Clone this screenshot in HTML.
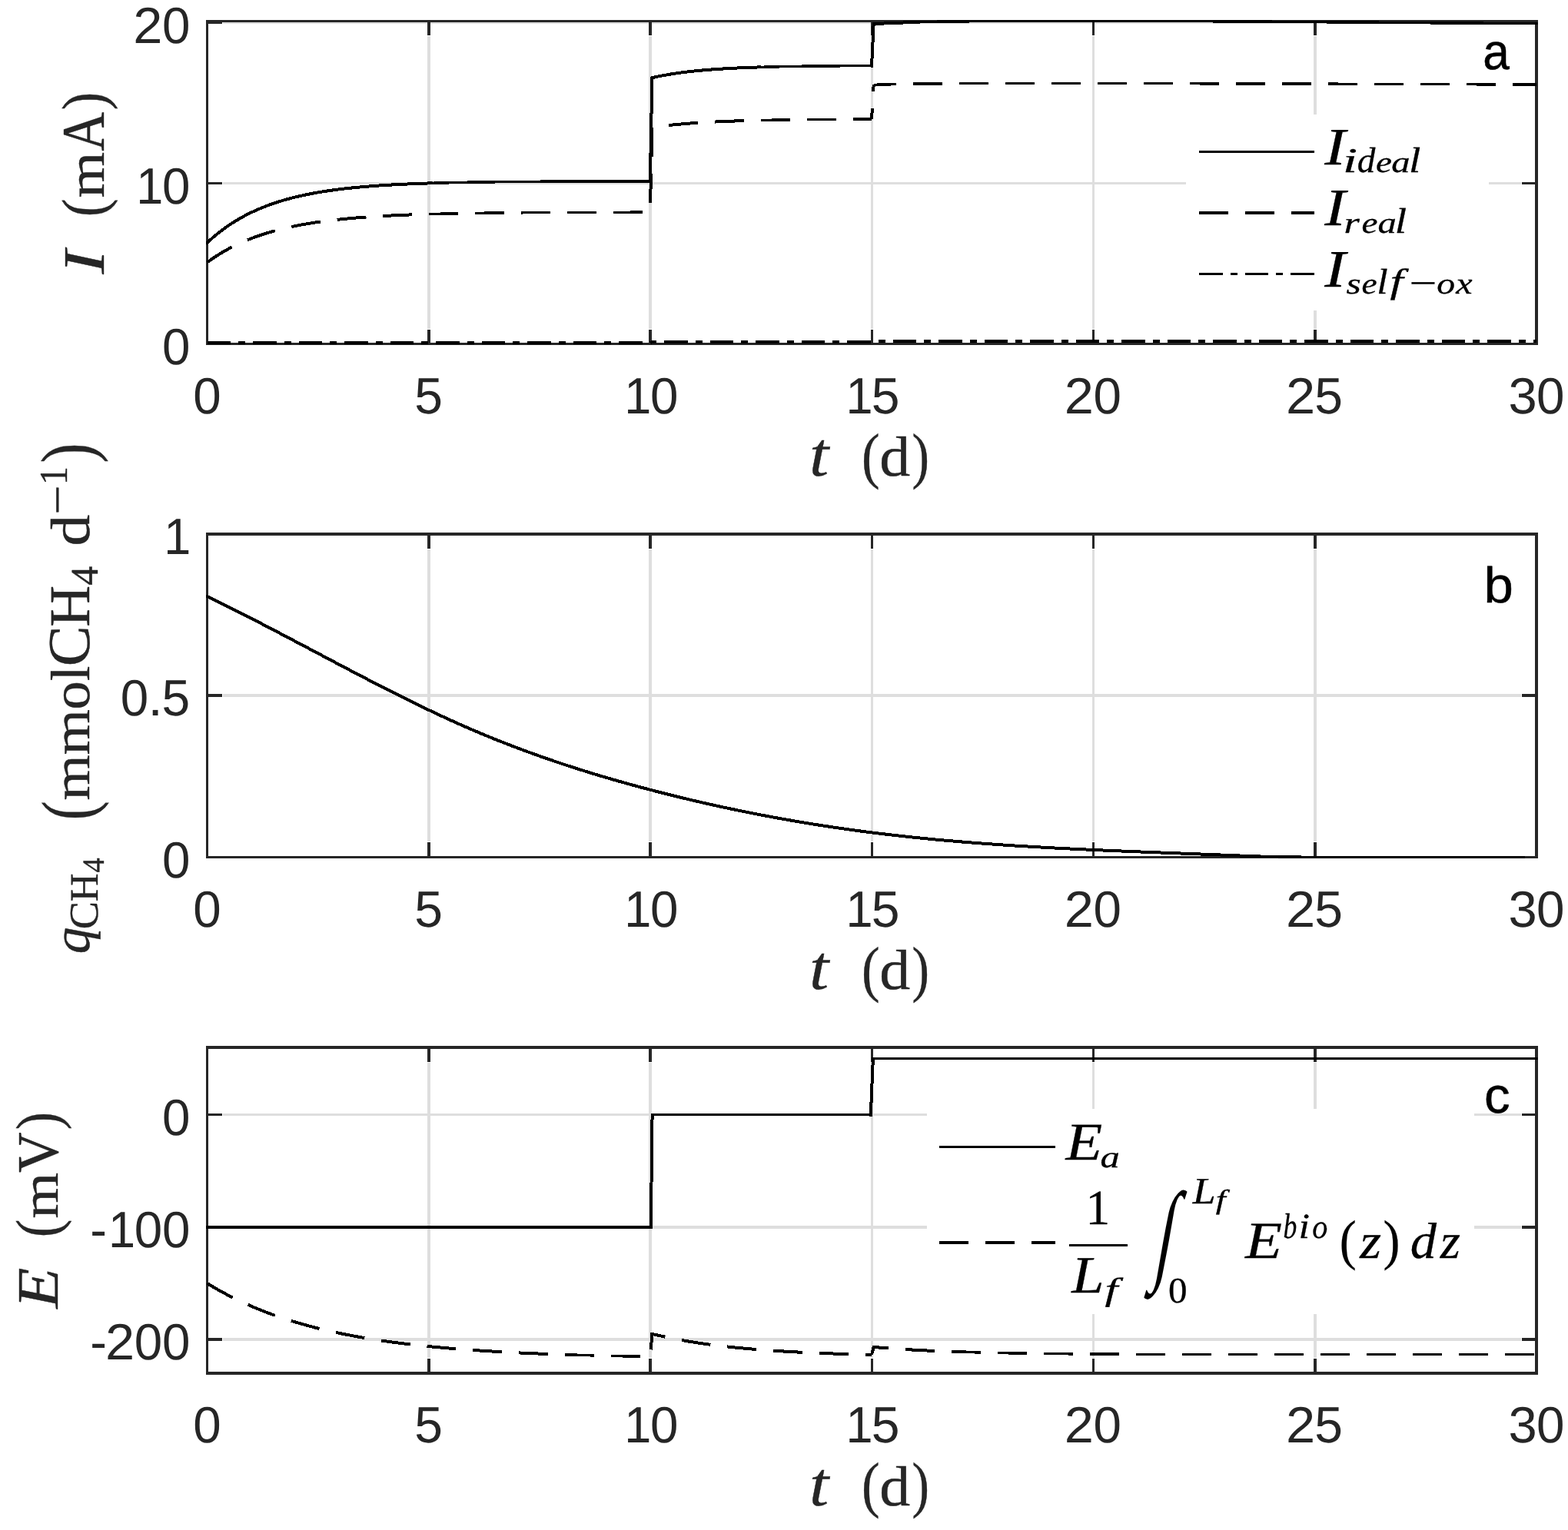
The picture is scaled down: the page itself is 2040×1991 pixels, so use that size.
<!DOCTYPE html>
<html lang="en"><head><meta charset="utf-8"><title>Figure: current, methane production rate and potential versus time</title>
<style>html,body{margin:0;padding:0;background:#fff}body{width:2040px;height:1991px;overflow:hidden}svg{display:block}text{white-space:pre}</style></head><body>
<svg xmlns="http://www.w3.org/2000/svg" width="2040" height="1991" viewBox="0 0 2040 1991" text-rendering="geometricPrecision">
<rect width="2040" height="1991" fill="#fff"/>
<defs>
<clipPath id="c0"><rect x="268.1" y="26" width="1732.5" height="423"/></clipPath>
<clipPath id="c1"><rect x="268.1" y="693.5" width="1732.5" height="423.5"/></clipPath>
<clipPath id="c2"><rect x="268.1" y="1361.5" width="1732.5" height="427"/></clipPath>
</defs>
<g id="panel-a">
<g fill="#dedede"><rect x="556" y="47" width="4" height="381"/><rect x="844" y="47" width="4" height="381"/><rect x="1133" y="47" width="3" height="381"/><rect x="1421" y="47" width="3" height="381"/><rect x="1709" y="47" width="4" height="381"/><rect x="290" y="446" width="1689" height="0"/><rect x="290" y="237" width="1689" height="3"/><rect x="290" y="29" width="1689" height="2"/></g>
<rect x="1543" y="149" width="394" height="255" fill="#fff"/>
<g fill="#262626"><rect x="268" y="26" width="1733" height="3"/><rect x="268" y="446" width="1733" height="3"/><rect x="268" y="26" width="3" height="423"/><rect x="1997" y="26" width="4" height="423"/><rect x="268" y="29" width="3" height="17"/><rect x="268" y="429" width="3" height="17"/><rect x="556" y="29" width="4" height="17"/><rect x="556" y="429" width="4" height="17"/><rect x="844" y="29" width="4" height="17"/><rect x="844" y="429" width="4" height="17"/><rect x="1133" y="29" width="3" height="17"/><rect x="1133" y="429" width="3" height="17"/><rect x="1421" y="29" width="3" height="17"/><rect x="1421" y="429" width="3" height="17"/><rect x="1709" y="29" width="4" height="17"/><rect x="1709" y="429" width="4" height="17"/><rect x="1997" y="29" width="4" height="17"/><rect x="1997" y="429" width="4" height="17"/><rect x="271" y="446" width="18" height="3"/><rect x="1980" y="446" width="17" height="3"/><rect x="271" y="237" width="18" height="3"/><rect x="1980" y="237" width="17" height="3"/><rect x="271" y="28" width="18" height="3"/><rect x="1980" y="28" width="17" height="3"/></g>
<path d="M269.6 315.83 L276.07 309.94 L282.55 304.49 L289.02 299.43 L295.5 294.75 L301.97 290.42 L308.45 286.4 L314.92 282.67 L321.39 279.23 L327.87 276.03 L334.34 273.07 L340.82 270.33 L347.29 267.79 L353.77 265.43 L360.24 263.25 L366.71 261.23 L373.19 259.36 L379.66 257.63 L386.14 256.02 L392.61 254.53 L399.09 253.15 L405.56 251.87 L412.03 250.69 L418.51 249.59 L424.98 248.58 L431.46 247.64 L437.93 246.77 L444.41 245.96 L450.88 245.21 L457.35 244.52 L463.83 243.87 L470.3 243.28 L476.78 242.73 L483.25 242.22 L489.73 241.74 L496.2 241.3 L502.67 240.9 L509.15 240.52 L515.62 240.17 L522.1 239.85 L528.57 239.55 L535.05 239.27 L541.52 239.02 L547.99 238.78 L554.47 238.56 L560.94 238.36" fill="none" stroke="#000" stroke-width="4" stroke-linejoin="miter" stroke-linecap="square" shape-rendering="crispEdges" clip-path="url(#c0)"/>
<path d="M560.94 238.36 L567.42 238.17 L573.89 237.99 L580.37 237.83 L586.84 237.68 L593.31 237.54 L599.79 237.41 L606.26 237.29 L612.74 237.18 L619.21 237.08 L625.69 236.98 L632.16 236.89 L638.63 236.81 L645.11 236.74 L651.58 236.67 L658.06 236.6 L664.53 236.54 L671.01 236.48 L677.48 236.43 L683.95 236.39 L690.43 236.34 L696.9 236.3 L703.38 236.26 L709.85 236.23 L716.33 236.19 L722.8 236.16 L729.27 236.14 L735.75 236.11 L742.22 236.09 L748.7 236.06 L755.17 236.04 L761.65 236.02 L768.12 236.01 L774.59 235.99 L781.07 235.97 L787.54 235.96 L794.02 235.95 L800.49 235.94 L806.97 235.92 L813.44 235.91 L819.91 235.9 L826.39 235.9 L832.86 235.89 L839.34 235.88 L845.81 235.87" fill="none" stroke="#000" stroke-width="3.5" stroke-linejoin="miter" stroke-linecap="square" shape-rendering="crispEdges" clip-path="url(#c0)"/>
<path d="M845.81 235.87 L848.41 101.19 L854.24 99.9 L860.07 98.72 L865.9 97.64 L871.72 96.64 L877.55 95.73 L883.38 94.88 L889.21 94.11 L895.04 93.4 L900.87 92.74 L906.7 92.14 L912.53 91.59 L918.36 91.08 L924.19 90.61 L930.02 90.18 L935.85 89.79 L941.68 89.43 L947.51 89.09 L953.34 88.79 L959.17 88.51 L965 88.25 L970.83 88.01 L976.66 87.79 L982.49 87.59 L988.32 87.4" fill="none" stroke="#000" stroke-width="4" stroke-linejoin="miter" stroke-linecap="square" shape-rendering="crispEdges" clip-path="url(#c0)"/>
<path d="M988.32 87.4 L994.15 87.24 L999.98 87.08 L1005.81 86.94 L1011.64 86.8 L1017.47 86.68 L1023.3 86.57 L1029.13 86.47 L1034.96 86.37 L1040.79 86.29 L1046.62 86.21 L1052.45 86.13 L1058.28 86.07 L1064.11 86.01 L1069.93 85.95 L1075.76 85.9 L1081.59 85.85 L1087.42 85.8 L1093.25 85.76 L1099.08 85.73 L1104.91 85.69 L1110.74 85.66 L1116.57 85.63 L1122.4 85.61 L1128.23 85.58 L1134.06 85.56" fill="none" stroke="#000" stroke-width="3.5" stroke-linejoin="miter" stroke-linecap="square" shape-rendering="crispEdges" clip-path="url(#c0)"/>
<path d="M1134.06 85.56 L1136.66 31.17 L1151.27 30.45 L1165.89 29.83 L1180.51 29.29 L1195.13 28.81" fill="none" stroke="#000" stroke-width="4" stroke-linejoin="miter" stroke-linecap="square" shape-rendering="crispEdges" clip-path="url(#c0)"/>
<path d="M1195.13 28.81 L1209.74 28.45 L1224.36 28.16 L1238.98 27.93 L1253.6 27.8 L1268.22 27.71 L1282.83 27.63 L1297.45 27.57 L1312.07 27.51 L1326.69 27.46 L1341.3 27.43 L1355.92 27.41 L1370.54 27.41 L1385.16 27.41 L1399.77 27.42 L1414.39 27.43 L1429.01 27.44 L1443.63 27.46 L1458.25 27.48 L1472.86 27.5 L1487.48 27.53 L1502.1 27.55 L1516.72 27.58 L1531.33 27.61 L1545.95 27.64 L1560.57 27.69 L1575.19 27.75 L1589.8 27.82 L1604.42 27.91 L1619.04 28.01 L1633.66 28.11 L1648.28 28.21 L1662.89 28.32 L1677.51 28.43 L1692.13 28.54 L1706.75 28.64 L1721.36 28.73 L1735.98 28.84 L1750.6 28.94 L1765.22 29.04 L1779.83 29.15 L1794.45 29.26 L1809.07 29.37 L1823.69 29.48 L1838.31 29.59 L1852.92 29.69 L1867.54 29.8 L1882.16 29.91 L1896.78 30.01 L1911.39 30.12 L1926.01 30.22 L1940.63 30.33 L1955.25 30.44 L1969.86 30.54 L1984.48 30.65 L1999.1 30.75" fill="none" stroke="#000" stroke-width="3.5" stroke-linejoin="miter" stroke-linecap="square" shape-rendering="crispEdges" clip-path="url(#c0)"/>
<path d="M269.6 341.33 L276.07 336.74 L282.55 332.48 L289.02 328.51 L295.5 324.83 L301.97 321.4 L308.45 318.22 L314.92 315.26 L321.39 312.51 L327.87 309.95 L334.34 307.57 L340.82 305.36 L347.29 303.3 L353.77 301.39 L360.24 299.61 L366.71 297.96 L373.19 296.42 L379.66 295 L386.14 293.67 L392.61 292.43 L399.09 291.29 L405.56 290.22 L412.03 289.23 L418.51 288.31 L424.98 287.45 L431.46 286.65 L437.93 285.91 L444.41 285.22 L450.88 284.58 L457.35 283.99 L463.83 283.43 L470.3 282.92 L476.78 282.44 L483.25 282 L489.73 281.58 L496.2 281.2 L502.67 280.84 L509.15 280.51 L515.62 280.2 L522.1 279.91 L528.57 279.65 L535.05 279.4 L541.52 279.17 L547.99 278.95 L554.47 278.76" fill="none" stroke="#000" stroke-width="4" stroke-linejoin="miter" stroke-linecap="butt" shape-rendering="crispEdges" stroke-dasharray="38 22" clip-path="url(#c0)"/>
<path d="M554.47 278.76 L560.94 278.57 L567.42 278.4 L573.89 278.24 L580.37 278.09 L586.84 277.95 L593.31 277.82 L599.79 277.7 L606.26 277.59 L612.74 277.49 L619.21 277.39 L625.69 277.3 L632.16 277.22 L638.63 277.14 L645.11 277.07 L651.58 277 L658.06 276.94 L664.53 276.88 L671.01 276.83 L677.48 276.78 L683.95 276.73 L690.43 276.69 L696.9 276.65 L703.38 276.61 L709.85 276.58 L716.33 276.55 L722.8 276.52 L729.27 276.49 L735.75 276.46 L742.22 276.44 L748.7 276.42 L755.17 276.39 L761.65 276.38 L768.12 276.36 L774.59 276.34 L781.07 276.33 L787.54 276.31 L794.02 276.3 L800.49 276.28 L806.97 276.27 L813.44 276.26 L819.91 276.25 L826.39 276.24 L832.86 276.23 L839.34 276.23 L845.81 276.22" fill="none" stroke="#000" stroke-width="3.5" stroke-linejoin="miter" stroke-linecap="butt" shape-rendering="crispEdges" stroke-dasharray="38 22" stroke-dashoffset="56.13" clip-path="url(#c0)"/>
<path d="M845.81 276.22 L848.41 165.77 L854.24 164.95 L860.07 164.2 L865.9 163.51 L871.72 162.86 L877.55 162.27 L883.38 161.71 L889.21 161.2 L895.04 160.73 L900.87 160.3 L906.7 159.89 L912.53 159.52 L918.36 159.17 L924.19 158.85 L930.02 158.56 L935.85 158.28 L941.68 158.03 L947.51 157.8 L953.34 157.58 L959.17 157.38 L965 157.19" fill="none" stroke="#000" stroke-width="4" stroke-linejoin="miter" stroke-linecap="butt" shape-rendering="crispEdges" stroke-dasharray="38 22" stroke-dashoffset="47.49" clip-path="url(#c0)"/>
<path d="M965 157.19 L970.83 157.02 L976.66 156.86 L982.49 156.72 L988.32 156.58 L994.15 156.45 L999.98 156.34 L1005.81 156.23 L1011.64 156.13 L1017.47 156.04 L1023.3 155.95 L1029.13 155.87 L1034.96 155.8 L1040.79 155.73 L1046.62 155.67 L1052.45 155.61 L1058.28 155.56 L1064.11 155.51 L1069.93 155.47 L1075.76 155.42 L1081.59 155.38 L1087.42 155.35 L1093.25 155.31 L1099.08 155.28 L1104.91 155.25 L1110.74 155.23 L1116.57 155.2 L1122.4 155.18 L1128.23 155.16 L1134.06 155.14" fill="none" stroke="#000" stroke-width="3.5" stroke-linejoin="miter" stroke-linecap="butt" shape-rendering="crispEdges" stroke-dasharray="38 22" stroke-dashoffset="34.94" clip-path="url(#c0)"/>
<path d="M1134.06 155.14 L1136.66 110.38" fill="none" stroke="#000" stroke-width="4" stroke-linejoin="miter" stroke-linecap="butt" shape-rendering="crispEdges" stroke-dasharray="38 22" stroke-dashoffset="24.02" clip-path="url(#c0)"/>
<path d="M1136.66 110.38 L1151.27 109.97 L1165.89 109.59 L1180.51 109.28 L1195.13 109.1 L1209.74 108.97 L1224.36 108.85 L1238.98 108.75 L1253.6 108.66 L1268.22 108.59 L1282.83 108.54 L1297.45 108.51 L1312.07 108.5 L1326.69 108.5 L1341.3 108.51 L1355.92 108.51 L1370.54 108.52 L1385.16 108.53 L1399.77 108.55 L1414.39 108.56 L1429.01 108.57 L1443.63 108.59 L1458.25 108.61 L1472.86 108.62 L1487.48 108.64 L1502.1 108.66 L1516.72 108.68 L1531.33 108.7 L1545.95 108.72 L1560.57 108.75 L1575.19 108.78 L1589.8 108.81 L1604.42 108.85 L1619.04 108.89 L1633.66 108.93 L1648.28 108.97 L1662.89 109.02 L1677.51 109.06 L1692.13 109.11 L1706.75 109.15 L1721.36 109.2 L1735.98 109.24 L1750.6 109.29 L1765.22 109.33 L1779.83 109.37 L1794.45 109.41 L1809.07 109.45 L1823.69 109.49 L1838.31 109.53 L1852.92 109.57 L1867.54 109.61 L1882.16 109.65 L1896.78 109.69 L1911.39 109.73 L1926.01 109.77 L1940.63 109.81 L1955.25 109.85 L1969.86 109.89 L1984.48 109.93 L1999.1 109.97" fill="none" stroke="#000" stroke-width="3.5" stroke-linejoin="miter" stroke-linecap="butt" shape-rendering="crispEdges" stroke-dasharray="38 22" stroke-dashoffset="8.85" clip-path="url(#c0)"/>
<path d="M269.6 446 L846.1 446" fill="none" stroke="#000" stroke-width="3.5" stroke-linejoin="miter" stroke-linecap="butt" shape-rendering="crispEdges" stroke-dasharray="30.5 10 9 10" clip-path="url(#c0)"/>
<path d="M846.1 446 L848.41 445" fill="none" stroke="#000" stroke-width="4" stroke-linejoin="miter" stroke-linecap="butt" shape-rendering="crispEdges" stroke-dasharray="30.5 10 9 10" stroke-dashoffset="41" clip-path="url(#c0)"/>
<path d="M848.41 445 L1134.35 445" fill="none" stroke="#000" stroke-width="3.5" stroke-linejoin="miter" stroke-linecap="butt" shape-rendering="crispEdges" stroke-dasharray="30.5 10 9 10" stroke-dashoffset="43.51" clip-path="url(#c0)"/>
<path d="M1134.35 445 L1136.66 444" fill="none" stroke="#000" stroke-width="4" stroke-linejoin="miter" stroke-linecap="butt" shape-rendering="crispEdges" stroke-dasharray="30.5 10 9 10" stroke-dashoffset="31.96" clip-path="url(#c0)"/>
<path d="M1136.66 444 L1999.1 444" fill="none" stroke="#000" stroke-width="3.5" stroke-linejoin="miter" stroke-linecap="butt" shape-rendering="crispEdges" stroke-dasharray="30.5 10 9 10" stroke-dashoffset="34.47" clip-path="url(#c0)"/>
<path d="M1560 197.5 L1710 197.5" fill="none" stroke="#000" stroke-width="3" stroke-linejoin="miter" stroke-linecap="butt" shape-rendering="crispEdges"/>
<path d="M1560 277 L1710 277" fill="none" stroke="#000" stroke-width="4" stroke-linejoin="miter" stroke-linecap="butt" shape-rendering="crispEdges" stroke-dasharray="38 22"/>
<path d="M1560 356.5 L1710 356.5" fill="none" stroke="#000" stroke-width="3" stroke-linejoin="miter" stroke-linecap="butt" shape-rendering="crispEdges" stroke-dasharray="30.5 10 9 10"/>
<text fill="#000" stroke="#000" stroke-width="0.3" stroke-linejoin="round"><tspan x="1723.22" y="214.3" font-size="68.57" font-family='"Liberation Serif", "Times New Roman", serif' font-style="italic" textLength="27.55" lengthAdjust="spacingAndGlyphs">I</tspan><tspan x="1746.9" y="223.7" font-size="45.31" font-family='"Liberation Serif", "Times New Roman", serif' font-style="italic" textLength="18.97" lengthAdjust="spacingAndGlyphs">i</tspan><tspan x="1765.67" y="223.7" font-size="46.41" font-family='"Liberation Serif", "Times New Roman", serif' font-style="italic" textLength="23.61" lengthAdjust="spacingAndGlyphs">d</tspan><tspan x="1789.95" y="223.7" font-size="38.63" font-family='"Liberation Serif", "Times New Roman", serif' font-style="italic" textLength="20.91" lengthAdjust="spacingAndGlyphs">e</tspan><tspan x="1810.25" y="223.7" font-size="38.67" font-family='"Liberation Serif", "Times New Roman", serif' font-style="italic" textLength="24.27" lengthAdjust="spacingAndGlyphs">a</tspan><tspan x="1833.06" y="223.7" font-size="46.41" font-family='"Liberation Serif", "Times New Roman", serif' font-style="italic" textLength="15.36" lengthAdjust="spacingAndGlyphs">l</tspan></text>
<text fill="#000" stroke="#000" stroke-width="0.3" stroke-linejoin="round"><tspan x="1723.22" y="293.1" font-size="68.57" font-family='"Liberation Serif", "Times New Roman", serif' font-style="italic" textLength="27.55" lengthAdjust="spacingAndGlyphs">I</tspan><tspan x="1748.58" y="302.5" font-size="38.63" font-family='"Liberation Serif", "Times New Roman", serif' font-style="italic" textLength="20.37" lengthAdjust="spacingAndGlyphs">r</tspan><tspan x="1771.55" y="302.5" font-size="38.63" font-family='"Liberation Serif", "Times New Roman", serif' font-style="italic" textLength="20.91" lengthAdjust="spacingAndGlyphs">e</tspan><tspan x="1792.55" y="302.5" font-size="38.67" font-family='"Liberation Serif", "Times New Roman", serif' font-style="italic" textLength="24.27" lengthAdjust="spacingAndGlyphs">a</tspan><tspan x="1814.66" y="302.5" font-size="46.41" font-family='"Liberation Serif", "Times New Roman", serif' font-style="italic" textLength="15.36" lengthAdjust="spacingAndGlyphs">l</tspan></text>
<text fill="#000" stroke="#000" stroke-width="0.3" stroke-linejoin="round"><tspan x="1723.22" y="372.5" font-size="68.57" font-family='"Liberation Serif", "Times New Roman", serif' font-style="italic" textLength="27.55" lengthAdjust="spacingAndGlyphs">I</tspan><tspan x="1751.4" y="381.9" font-size="38.63" font-family='"Liberation Serif", "Times New Roman", serif' font-style="italic" textLength="19.2" lengthAdjust="spacingAndGlyphs">s</tspan><tspan x="1771.61" y="381.9" font-size="38.63" font-family='"Liberation Serif", "Times New Roman", serif' font-style="italic" textLength="20.11" lengthAdjust="spacingAndGlyphs">e</tspan><tspan x="1791.24" y="381.9" font-size="46.41" font-family='"Liberation Serif", "Times New Roman", serif' font-style="italic" textLength="14.4" lengthAdjust="spacingAndGlyphs">l</tspan><tspan x="1808.41" y="380.89" font-size="45.15" font-family='"Liberation Serif", "Times New Roman", serif' font-style="italic" textLength="17.17" lengthAdjust="spacingAndGlyphs">f</tspan><tspan x="1829.49" y="385.4" font-size="50" font-family='"Liberation Serif", "Times New Roman", serif' font-style="italic" textLength="42.78" lengthAdjust="spacingAndGlyphs">−</tspan><tspan x="1869.38" y="381.9" font-size="38.63" font-family='"Liberation Serif", "Times New Roman", serif' font-style="italic" textLength="23.84" lengthAdjust="spacingAndGlyphs">o</tspan><tspan x="1894.39" y="381.9" font-size="39.22" font-family='"Liberation Serif", "Times New Roman", serif' font-style="italic" textLength="21.36" lengthAdjust="spacingAndGlyphs">x</tspan></text>
<text fill="#000" stroke="#000" stroke-width="0.5" stroke-linejoin="round"><tspan x="1929.35" y="90.35" font-size="66.08" font-family='"Liberation Sans", Arial, Helvetica, sans-serif' textLength="34.65" lengthAdjust="spacingAndGlyphs">a</tspan></text>
<text fill="#262626"><tspan x="251.37" y="537.8" font-size="66.43" font-family='"Liberation Sans", Arial, Helvetica, sans-serif' textLength="36.45" lengthAdjust="spacingAndGlyphs">0</tspan></text>
<text fill="#262626"><tspan x="539.21" y="537.8" font-size="66.43" font-family='"Liberation Sans", Arial, Helvetica, sans-serif' textLength="36.75" lengthAdjust="spacingAndGlyphs">5</tspan></text>
<text fill="#262626"><tspan x="812.15" y="537.8" font-size="66.43" font-family='"Liberation Sans", Arial, Helvetica, sans-serif' textLength="35.09" lengthAdjust="spacingAndGlyphs">1</tspan><tspan x="845.94" y="537.8" font-size="66.43" font-family='"Liberation Sans", Arial, Helvetica, sans-serif' textLength="36.45" lengthAdjust="spacingAndGlyphs">0</tspan></text>
<text fill="#262626"><tspan x="1100.4" y="537.8" font-size="66.43" font-family='"Liberation Sans", Arial, Helvetica, sans-serif' textLength="35.09" lengthAdjust="spacingAndGlyphs">1</tspan><tspan x="1133.78" y="537.8" font-size="66.43" font-family='"Liberation Sans", Arial, Helvetica, sans-serif' textLength="36.75" lengthAdjust="spacingAndGlyphs">5</tspan></text>
<text fill="#262626"><tspan x="1384.7" y="537.8" font-size="66.43" font-family='"Liberation Sans", Arial, Helvetica, sans-serif' textLength="38.17" lengthAdjust="spacingAndGlyphs">2</tspan><tspan x="1422.44" y="537.8" font-size="66.43" font-family='"Liberation Sans", Arial, Helvetica, sans-serif' textLength="36.45" lengthAdjust="spacingAndGlyphs">0</tspan></text>
<text fill="#262626"><tspan x="1672.95" y="537.8" font-size="66.43" font-family='"Liberation Sans", Arial, Helvetica, sans-serif' textLength="38.17" lengthAdjust="spacingAndGlyphs">2</tspan><tspan x="1710.28" y="537.8" font-size="66.43" font-family='"Liberation Sans", Arial, Helvetica, sans-serif' textLength="36.75" lengthAdjust="spacingAndGlyphs">5</tspan></text>
<text fill="#262626"><tspan x="1962.62" y="537.8" font-size="66.43" font-family='"Liberation Sans", Arial, Helvetica, sans-serif' textLength="37.21" lengthAdjust="spacingAndGlyphs">3</tspan><tspan x="1998.94" y="537.8" font-size="66.43" font-family='"Liberation Sans", Arial, Helvetica, sans-serif' textLength="36.45" lengthAdjust="spacingAndGlyphs">0</tspan></text>
<text fill="#262626"><tspan x="211" y="473.5" font-size="66.43" font-family='"Liberation Sans", Arial, Helvetica, sans-serif' textLength="36.45" lengthAdjust="spacingAndGlyphs">0</tspan></text>
<text fill="#262626"><tspan x="177.21" y="264.5" font-size="66.43" font-family='"Liberation Sans", Arial, Helvetica, sans-serif' textLength="35.09" lengthAdjust="spacingAndGlyphs">1</tspan><tspan x="211" y="264.5" font-size="66.43" font-family='"Liberation Sans", Arial, Helvetica, sans-serif' textLength="36.45" lengthAdjust="spacingAndGlyphs">0</tspan></text>
<text fill="#262626"><tspan x="173.26" y="55.5" font-size="66.43" font-family='"Liberation Sans", Arial, Helvetica, sans-serif' textLength="38.17" lengthAdjust="spacingAndGlyphs">2</tspan><tspan x="211" y="55.5" font-size="66.43" font-family='"Liberation Sans", Arial, Helvetica, sans-serif' textLength="36.45" lengthAdjust="spacingAndGlyphs">0</tspan></text>
<text fill="#262626" stroke="#262626" stroke-width="0.4" stroke-linejoin="round"><tspan x="1053.02" y="619" font-size="81.71" font-family='"Liberation Serif", "Times New Roman", serif' font-style="italic" textLength="25.17" lengthAdjust="spacingAndGlyphs">t</tspan></text>
<text fill="#262626" stroke="#262626" stroke-width="0.4" stroke-linejoin="round"><tspan x="1120.89" y="619.76" font-size="80.51" font-family='"Liberation Serif", "Times New Roman", serif' textLength="23.6" lengthAdjust="spacingAndGlyphs">(</tspan><tspan x="1144.21" y="619" font-size="73.65" font-family='"Liberation Serif", "Times New Roman", serif' textLength="39.96" lengthAdjust="spacingAndGlyphs">d</tspan><tspan x="1186.53" y="619.76" font-size="80.51" font-family='"Liberation Serif", "Times New Roman", serif' textLength="22.43" lengthAdjust="spacingAndGlyphs">)</tspan></text>
<text transform="rotate(-90)" fill="#262626" stroke="#262626" stroke-width="0.4" stroke-linejoin="round"><tspan x="-356.83" y="135" font-size="76.36" font-family='"Liberation Serif", "Times New Roman", serif' font-style="italic" textLength="31.27" lengthAdjust="spacingAndGlyphs">I</tspan></text>
<text transform="rotate(-90)" fill="#262626" stroke="#262626" stroke-width="0.4" stroke-linejoin="round"><tspan x="-282.13" y="136.18" font-size="79.96" font-family='"Liberation Serif", "Times New Roman", serif' textLength="23.73" lengthAdjust="spacingAndGlyphs">(</tspan><tspan x="-257.61" y="135" font-size="68.13" font-family='"Liberation Serif", "Times New Roman", serif' textLength="59.71" lengthAdjust="spacingAndGlyphs">m</tspan><tspan x="-196.69" y="135" font-size="78.77" font-family='"Liberation Serif", "Times New Roman", serif' textLength="51.11" lengthAdjust="spacingAndGlyphs">A</tspan><tspan x="-143.27" y="136.2" font-size="79.85" font-family='"Liberation Serif", "Times New Roman", serif' textLength="23.47" lengthAdjust="spacingAndGlyphs">)</tspan></text>
</g>
<g id="panel-b">
<g fill="#dedede"><rect x="556" y="715" width="4" height="380"/><rect x="844" y="715" width="4" height="380"/><rect x="1133" y="715" width="3" height="380"/><rect x="1421" y="715" width="3" height="380"/><rect x="1709" y="715" width="4" height="380"/><rect x="290" y="1114" width="1689" height="0"/><rect x="290" y="903" width="1689" height="4"/><rect x="290" y="697" width="1689" height="0"/></g>
<g fill="#262626"><rect x="268" y="693" width="1733" height="4"/><rect x="268" y="1114" width="1733" height="3"/><rect x="268" y="693" width="3" height="424"/><rect x="1997" y="693" width="4" height="424"/><rect x="268" y="697" width="3" height="17"/><rect x="268" y="1096" width="3" height="18"/><rect x="556" y="697" width="4" height="17"/><rect x="556" y="1096" width="4" height="18"/><rect x="844" y="697" width="4" height="17"/><rect x="844" y="1096" width="4" height="18"/><rect x="1133" y="697" width="3" height="17"/><rect x="1133" y="1096" width="3" height="18"/><rect x="1421" y="697" width="3" height="17"/><rect x="1421" y="1096" width="3" height="18"/><rect x="1709" y="697" width="4" height="17"/><rect x="1709" y="1096" width="4" height="18"/><rect x="1997" y="697" width="4" height="17"/><rect x="1997" y="1096" width="4" height="18"/><rect x="271" y="1114" width="18" height="3"/><rect x="1980" y="1114" width="17" height="3"/><rect x="271" y="903" width="18" height="4"/><rect x="1980" y="903" width="17" height="4"/><rect x="271" y="693" width="18" height="4"/><rect x="1980" y="693" width="17" height="4"/></g>
<path d="M269.6 776.17 L283.95 783.15 L298.3 790.25 L312.65 797.47 L327 804.78 L341.36 812.18 L355.71 819.64 L370.06 827.16 L384.41 834.72 L398.76 842.3 L413.11 849.9 L427.46 857.49 L441.81 865.07 L456.17 872.61 L470.52 880.11 L484.87 887.56 L499.22 894.92 L513.57 902.2 L527.92 909.38 L542.27 916.44 L556.62 923.37 L570.97 930.16 L585.33 936.78 L599.68 943.24 L614.03 949.5 L628.38 955.58 L642.73 961.46 L657.08 967.16 L671.43 972.68 L685.78 978.03 L700.14 983.22 L714.49 988.24 L728.84 993.11 L743.19 997.83 L757.54 1002.4 L771.89 1006.84 L786.24 1011.14 L800.59 1015.32 L814.94 1019.38 L829.3 1023.32 L843.65 1027.15 L858 1030.88 L872.35 1034.51 L886.7 1038.03 L901.05 1041.46 L915.4 1044.78 L929.75 1048 L944.11 1051.13 L958.46 1054.15 L972.81 1057.08 L987.16 1059.91 L1001.51 1062.64 L1015.86 1065.27 L1030.21 1067.81 L1044.56 1070.26 L1058.91 1072.61 L1073.27 1074.86 L1087.62 1077.03 L1101.97 1079.09 L1116.32 1081.07 L1130.67 1082.96 L1145.02 1084.75 L1159.37 1086.46 L1173.72 1088.08 L1188.07 1089.62 L1202.43 1091.08 L1216.78 1092.46 L1231.13 1093.77 L1245.48 1095.02 L1259.83 1096.19 L1274.18 1097.31 L1288.53 1098.36 L1302.88 1099.36 L1317.24 1100.31 L1331.59 1101.2 L1345.94 1102.06 L1360.29 1102.86 L1374.64 1103.63 L1388.99 1104.36 L1403.34 1105.06 L1417.69 1105.73 L1432.04 1106.37 L1446.4 1106.99 L1460.75 1107.58 L1475.1 1108.16 L1489.45 1108.73 L1503.8 1109.28 L1518.15 1109.83 L1532.5 1110.38 L1546.85 1110.92 L1561.21 1111.46 L1575.56 1112.02 L1589.91 1112.58 L1604.26 1113.15 L1618.61 1113.74" fill="none" stroke="#000" stroke-width="4" stroke-linejoin="miter" stroke-linecap="square" shape-rendering="crispEdges" clip-path="url(#c1)"/>
<path d="M1618.61 1113.74 L1653.2 1114.57 L1687.79 1115.21 L1722.38 1115.5 L1981.8 1115.5" fill="none" stroke="#000" stroke-width="3.5" stroke-linejoin="miter" stroke-linecap="square" shape-rendering="crispEdges" clip-path="url(#c1)"/>
<text fill="#000" stroke="#000" stroke-width="0.5" stroke-linejoin="round"><tspan x="1930.56" y="784.36" font-size="65.36" font-family='"Liberation Sans", Arial, Helvetica, sans-serif' textLength="38.34" lengthAdjust="spacingAndGlyphs">b</tspan></text>
<text fill="#262626"><tspan x="251.37" y="1205.8" font-size="66.43" font-family='"Liberation Sans", Arial, Helvetica, sans-serif' textLength="36.45" lengthAdjust="spacingAndGlyphs">0</tspan></text>
<text fill="#262626"><tspan x="539.21" y="1205.8" font-size="66.43" font-family='"Liberation Sans", Arial, Helvetica, sans-serif' textLength="36.75" lengthAdjust="spacingAndGlyphs">5</tspan></text>
<text fill="#262626"><tspan x="812.15" y="1205.8" font-size="66.43" font-family='"Liberation Sans", Arial, Helvetica, sans-serif' textLength="35.09" lengthAdjust="spacingAndGlyphs">1</tspan><tspan x="845.94" y="1205.8" font-size="66.43" font-family='"Liberation Sans", Arial, Helvetica, sans-serif' textLength="36.45" lengthAdjust="spacingAndGlyphs">0</tspan></text>
<text fill="#262626"><tspan x="1100.4" y="1205.8" font-size="66.43" font-family='"Liberation Sans", Arial, Helvetica, sans-serif' textLength="35.09" lengthAdjust="spacingAndGlyphs">1</tspan><tspan x="1133.78" y="1205.8" font-size="66.43" font-family='"Liberation Sans", Arial, Helvetica, sans-serif' textLength="36.75" lengthAdjust="spacingAndGlyphs">5</tspan></text>
<text fill="#262626"><tspan x="1384.7" y="1205.8" font-size="66.43" font-family='"Liberation Sans", Arial, Helvetica, sans-serif' textLength="38.17" lengthAdjust="spacingAndGlyphs">2</tspan><tspan x="1422.44" y="1205.8" font-size="66.43" font-family='"Liberation Sans", Arial, Helvetica, sans-serif' textLength="36.45" lengthAdjust="spacingAndGlyphs">0</tspan></text>
<text fill="#262626"><tspan x="1672.95" y="1205.8" font-size="66.43" font-family='"Liberation Sans", Arial, Helvetica, sans-serif' textLength="38.17" lengthAdjust="spacingAndGlyphs">2</tspan><tspan x="1710.28" y="1205.8" font-size="66.43" font-family='"Liberation Sans", Arial, Helvetica, sans-serif' textLength="36.75" lengthAdjust="spacingAndGlyphs">5</tspan></text>
<text fill="#262626"><tspan x="1962.62" y="1205.8" font-size="66.43" font-family='"Liberation Sans", Arial, Helvetica, sans-serif' textLength="37.21" lengthAdjust="spacingAndGlyphs">3</tspan><tspan x="1998.94" y="1205.8" font-size="66.43" font-family='"Liberation Sans", Arial, Helvetica, sans-serif' textLength="36.45" lengthAdjust="spacingAndGlyphs">0</tspan></text>
<text fill="#262626"><tspan x="211" y="1141.5" font-size="66.43" font-family='"Liberation Sans", Arial, Helvetica, sans-serif' textLength="36.45" lengthAdjust="spacingAndGlyphs">0</tspan></text>
<text fill="#262626"><tspan x="156.79" y="931.25" font-size="66.43" font-family='"Liberation Sans", Arial, Helvetica, sans-serif' textLength="36.45" lengthAdjust="spacingAndGlyphs">0</tspan><tspan x="192.26" y="931.25" font-size="66.43" font-family='"Liberation Sans", Arial, Helvetica, sans-serif' textLength="19.73" lengthAdjust="spacingAndGlyphs">.</tspan><tspan x="210.59" y="931.25" font-size="66.43" font-family='"Liberation Sans", Arial, Helvetica, sans-serif' textLength="36.75" lengthAdjust="spacingAndGlyphs">5</tspan></text>
<text fill="#262626"><tspan x="213.35" y="721" font-size="66.43" font-family='"Liberation Sans", Arial, Helvetica, sans-serif' textLength="35.09" lengthAdjust="spacingAndGlyphs">1</tspan></text>
<text fill="#262626" stroke="#262626" stroke-width="0.4" stroke-linejoin="round"><tspan x="1053.02" y="1287" font-size="81.71" font-family='"Liberation Serif", "Times New Roman", serif' font-style="italic" textLength="25.17" lengthAdjust="spacingAndGlyphs">t</tspan></text>
<text fill="#262626" stroke="#262626" stroke-width="0.4" stroke-linejoin="round"><tspan x="1120.89" y="1287.76" font-size="80.51" font-family='"Liberation Serif", "Times New Roman", serif' textLength="23.6" lengthAdjust="spacingAndGlyphs">(</tspan><tspan x="1144.21" y="1287" font-size="73.65" font-family='"Liberation Serif", "Times New Roman", serif' textLength="39.96" lengthAdjust="spacingAndGlyphs">d</tspan><tspan x="1186.53" y="1287.76" font-size="80.51" font-family='"Liberation Serif", "Times New Roman", serif' textLength="22.43" lengthAdjust="spacingAndGlyphs">)</tspan></text>
<text transform="rotate(-90)" fill="#262626" stroke="#262626" stroke-width="0.4" stroke-linejoin="round"><tspan x="-1241.3" y="116" font-size="68.76" font-family='"Liberation Serif", "Times New Roman", serif' font-style="italic" textLength="34.62" lengthAdjust="spacingAndGlyphs">q</tspan><tspan x="-1209.33" y="127.1" font-size="53.16" font-family='"Liberation Serif", "Times New Roman", serif' textLength="36.34" lengthAdjust="spacingAndGlyphs">C</tspan><tspan x="-1173.27" y="127.1" font-size="52.23" font-family='"Liberation Serif", "Times New Roman", serif' textLength="36.76" lengthAdjust="spacingAndGlyphs">H</tspan><tspan x="-1135.45" y="135.2" font-size="40.11" font-family='"Liberation Serif", "Times New Roman", serif' textLength="19.15" lengthAdjust="spacingAndGlyphs">4</tspan></text>
<text transform="rotate(-90)" fill="#262626" stroke="#262626" stroke-width="0.4" stroke-linejoin="round"><tspan x="-1067.3" y="120.53" font-size="96.17" font-family='"Liberation Serif", "Times New Roman", serif' textLength="25.02" lengthAdjust="spacingAndGlyphs">(</tspan><tspan x="-1041.4" y="116" font-size="68.76" font-family='"Liberation Serif", "Times New Roman", serif' textLength="59.29" lengthAdjust="spacingAndGlyphs">m</tspan><tspan x="-982.41" y="116" font-size="68.76" font-family='"Liberation Serif", "Times New Roman", serif' textLength="59.61" lengthAdjust="spacingAndGlyphs">m</tspan><tspan x="-923.78" y="116" font-size="70.04" font-family='"Liberation Serif", "Times New Roman", serif' textLength="37.75" lengthAdjust="spacingAndGlyphs">o</tspan><tspan x="-886.22" y="116" font-size="72.06" font-family='"Liberation Serif", "Times New Roman", serif' textLength="19.75" lengthAdjust="spacingAndGlyphs">l</tspan><tspan x="-867.26" y="116" font-size="77.48" font-family='"Liberation Serif", "Times New Roman", serif' textLength="52.93" lengthAdjust="spacingAndGlyphs">C</tspan><tspan x="-816.01" y="116" font-size="74.99" font-family='"Liberation Serif", "Times New Roman", serif' textLength="54.21" lengthAdjust="spacingAndGlyphs">H</tspan><tspan x="-761.77" y="127.1" font-size="50.59" font-family='"Liberation Serif", "Times New Roman", serif' textLength="24.95" lengthAdjust="spacingAndGlyphs">4</tspan></text>
<text transform="rotate(-90)" fill="#262626" stroke="#262626" stroke-width="0.4" stroke-linejoin="round"><tspan x="-710.81" y="116" font-size="72.21" font-family='"Liberation Serif", "Times New Roman", serif' textLength="41.02" lengthAdjust="spacingAndGlyphs">d</tspan><tspan x="-669.46" y="93.71" font-size="58" font-family='"Liberation Serif", "Times New Roman", serif' textLength="38" lengthAdjust="spacingAndGlyphs">−</tspan><tspan x="-631.12" y="86.9" font-size="51.5" font-family='"Liberation Serif", "Times New Roman", serif' textLength="24" lengthAdjust="spacingAndGlyphs">1</tspan><tspan x="-602.42" y="120.45" font-size="96.06" font-family='"Liberation Serif", "Times New Roman", serif' textLength="26" lengthAdjust="spacingAndGlyphs">)</tspan></text>
</g>
<g id="panel-c">
<g fill="#dedede"><rect x="556" y="1383" width="4" height="384"/><rect x="844" y="1383" width="4" height="384"/><rect x="1133" y="1383" width="3" height="384"/><rect x="1421" y="1383" width="3" height="384"/><rect x="1709" y="1383" width="4" height="384"/><rect x="290" y="1449" width="1689" height="3"/><rect x="290" y="1595" width="1689" height="4"/><rect x="290" y="1741" width="1689" height="4"/></g>
<rect x="1206" y="1443" width="712" height="267" fill="#fff"/>
<g fill="#262626"><rect x="268" y="1361" width="1733" height="4"/><rect x="268" y="1785" width="1733" height="4"/><rect x="268" y="1361" width="3" height="428"/><rect x="1997" y="1361" width="4" height="428"/><rect x="268" y="1365" width="3" height="17"/><rect x="268" y="1768" width="3" height="17"/><rect x="556" y="1365" width="4" height="17"/><rect x="556" y="1768" width="4" height="17"/><rect x="844" y="1365" width="4" height="17"/><rect x="844" y="1768" width="4" height="17"/><rect x="1133" y="1365" width="3" height="17"/><rect x="1133" y="1768" width="3" height="17"/><rect x="1421" y="1365" width="3" height="17"/><rect x="1421" y="1768" width="3" height="17"/><rect x="1709" y="1365" width="4" height="17"/><rect x="1709" y="1768" width="4" height="17"/><rect x="1997" y="1365" width="4" height="17"/><rect x="1997" y="1768" width="4" height="17"/><rect x="271" y="1449" width="18" height="3"/><rect x="1980" y="1449" width="17" height="3"/><rect x="271" y="1595" width="18" height="4"/><rect x="1980" y="1595" width="17" height="4"/><rect x="271" y="1741" width="18" height="4"/><rect x="1980" y="1741" width="17" height="4"/></g>
<path d="M269.6 1596.93 L846.8 1596.93" fill="none" stroke="#000" stroke-width="3.5" stroke-linejoin="miter" stroke-linecap="square" shape-rendering="crispEdges" clip-path="url(#c2)"/>
<path d="M846.8 1596.93 L848.6 1450.72" fill="none" stroke="#000" stroke-width="4" stroke-linejoin="miter" stroke-linecap="square" shape-rendering="crispEdges" clip-path="url(#c2)"/>
<path d="M848.6 1450.72 L1132.85 1450.72" fill="none" stroke="#000" stroke-width="3.5" stroke-linejoin="miter" stroke-linecap="square" shape-rendering="crispEdges" clip-path="url(#c2)"/>
<path d="M1132.85 1450.72 L1135.85 1377.62" fill="none" stroke="#000" stroke-width="4" stroke-linejoin="miter" stroke-linecap="square" shape-rendering="crispEdges" clip-path="url(#c2)"/>
<path d="M1135.85 1377.62 L1999.1 1377.62" fill="none" stroke="#000" stroke-width="3.5" stroke-linejoin="miter" stroke-linecap="square" shape-rendering="crispEdges" clip-path="url(#c2)"/>
<path d="M269.6 1670.03 L276.9 1674.44 L284.19 1678.65 L291.49 1682.67 L298.79 1686.5 L306.09 1690.17 L313.38 1693.67 L320.68 1697.01 L327.98 1700.21 L335.28 1703.26 L342.57 1706.17 L349.87 1708.95 L357.17 1711.61 L364.47 1714.14 L371.76 1716.56 L379.06 1718.88 L386.36 1721.09 L393.66 1723.2 L400.95 1725.21 L408.25 1727.14 L415.55 1728.97 L422.85 1730.73 L430.14 1732.41 L437.44 1734.01 L444.74 1735.54 L452.04 1737 L459.33 1738.39 L466.63 1739.72 L473.93 1740.99 L481.23 1742.21 L488.52 1743.37 L495.82 1744.47 L503.12 1745.53 L510.42 1746.54 L517.71 1747.51 L525.01 1748.43 L532.31 1749.31 L539.61 1750.15 L546.9 1750.95 L554.2 1751.72 L561.5 1752.45 L568.8 1753.15 L576.09 1753.82 L583.39 1754.45 L590.69 1755.06 L597.99 1755.64 L605.28 1756.2 L612.58 1756.73 L619.88 1757.24 L627.18 1757.72 L634.47 1758.18 L641.77 1758.62 L649.07 1759.05 L656.37 1759.45 L663.66 1759.83 L670.96 1760.2 L678.26 1760.55 L685.56 1760.88 L692.85 1761.2 L700.15 1761.51 L707.45 1761.8 L714.75 1762.08 L722.04 1762.34 L729.34 1762.6 L736.64 1762.84 L743.94 1763.07 L751.23 1763.29" fill="none" stroke="#000" stroke-width="4" stroke-linejoin="miter" stroke-linecap="butt" shape-rendering="crispEdges" stroke-dasharray="38 22" clip-path="url(#c2)"/>
<path d="M751.23 1763.29 L758.53 1763.51 L765.83 1763.71 L773.13 1763.9 L780.42 1764.08 L787.72 1764.26 L795.02 1764.43 L802.32 1764.59 L809.61 1764.74 L816.91 1764.89 L824.21 1765.03 L831.51 1765.16 L838.8 1765.29 L846.1 1765.41" fill="none" stroke="#000" stroke-width="3.5" stroke-linejoin="miter" stroke-linecap="butt" shape-rendering="crispEdges" stroke-dasharray="38 22" stroke-dashoffset="16.08" clip-path="url(#c2)"/>
<path d="M846.1 1765.41 L848.41 1735.82 L854.24 1737.23 L860.07 1738.58 L865.9 1739.86 L871.72 1741.07 L877.55 1742.24 L883.38 1743.34 L889.21 1744.4 L895.04 1745.41 L900.87 1746.36 L906.7 1747.28 L912.53 1748.15 L918.36 1748.98 L924.19 1749.77 L930.02 1750.52 L935.85 1751.24 L941.68 1751.92 L947.51 1752.58 L953.34 1753.2 L959.17 1753.79 L965 1754.36 L970.83 1754.89 L976.66 1755.41 L982.49 1755.89 L988.32 1756.36 L994.15 1756.8 L999.98 1757.23 L1005.81 1757.63 L1011.64 1758.01 L1017.47 1758.38 L1023.3 1758.73 L1029.13 1759.06 L1034.96 1759.38 L1040.79 1759.68 L1046.62 1759.97 L1052.45 1760.24 L1058.28 1760.5 L1064.11 1760.75 L1069.93 1760.99 L1075.76 1761.21 L1081.59 1761.43 L1087.42 1761.63 L1093.25 1761.83 L1099.08 1762.02 L1104.91 1762.19" fill="none" stroke="#000" stroke-width="4" stroke-linejoin="miter" stroke-linecap="butt" shape-rendering="crispEdges" stroke-dasharray="38 22" stroke-dashoffset="50.98" clip-path="url(#c2)"/>
<path d="M1104.91 1762.19 L1110.74 1762.36 L1116.57 1762.52 L1122.4 1762.68 L1128.23 1762.83 L1134.06 1762.96" fill="none" stroke="#000" stroke-width="3.5" stroke-linejoin="miter" stroke-linecap="butt" shape-rendering="crispEdges" stroke-dasharray="38 22" stroke-dashoffset="38.97" clip-path="url(#c2)"/>
<path d="M1134.06 1762.96 L1136.66 1752.93 L1147.57 1753.86 L1158.49 1754.7 L1169.41 1755.46 L1180.32 1756.15 L1191.24 1756.77 L1202.16 1757.34 L1213.08 1757.85 L1223.99 1758.31 L1234.91 1758.73 L1245.83 1759.11 L1256.74 1759.45" fill="none" stroke="#000" stroke-width="4" stroke-linejoin="miter" stroke-linecap="butt" shape-rendering="crispEdges" stroke-dasharray="38 22" stroke-dashoffset="8.13" clip-path="url(#c2)"/>
<path d="M1256.74 1759.45 L1267.66 1759.76 L1278.58 1760.04 L1289.49 1760.3 L1300.41 1760.53 L1311.33 1760.74 L1322.25 1760.93 L1333.16 1761.1 L1344.08 1761.25 L1355 1761.39 L1365.91 1761.52 L1376.83 1761.63 L1387.75 1761.74 L1398.66 1761.83 L1409.58 1761.91 L1420.5 1761.99 L1431.42 1762.06 L1442.33 1762.12 L1453.25 1762.18 L1464.17 1762.23 L1475.08 1762.28 L1486 1762.32 L1496.92 1762.36 L1507.83 1762.4 L1518.75 1762.43 L1529.67 1762.45 L1540.59 1762.48 L1551.5 1762.5 L1562.42 1762.52 L1573.34 1762.54 L1584.25 1762.56 L1595.17 1762.58 L1606.09 1762.59 L1617 1762.6 L1627.92 1762.62 L1638.84 1762.63 L1649.76 1762.64 L1660.67 1762.64 L1671.59 1762.65 L1682.51 1762.66 L1693.42 1762.66 L1704.34 1762.67 L1715.26 1762.68 L1726.17 1762.68 L1737.09 1762.68 L1748.01 1762.69 L1758.93 1762.69 L1769.84 1762.7 L1780.76 1762.7 L1791.68 1762.7 L1802.59 1762.7 L1813.51 1762.71 L1824.43 1762.71 L1835.34 1762.71 L1846.26 1762.71 L1857.18 1762.71 L1868.1 1762.71 L1879.01 1762.71 L1889.93 1762.72 L1900.85 1762.72 L1911.76 1762.72 L1922.68 1762.72 L1933.6 1762.72 L1944.51 1762.72 L1955.43 1762.72 L1966.35 1762.72 L1977.27 1762.72 L1988.18 1762.72 L1999.1 1762.72" fill="none" stroke="#000" stroke-width="3.5" stroke-linejoin="miter" stroke-linecap="butt" shape-rendering="crispEdges" stroke-dasharray="38 22" stroke-dashoffset="18.78" clip-path="url(#c2)"/>
<path d="M1222 1492.5 L1373 1492.5" fill="none" stroke="#000" stroke-width="3" stroke-linejoin="miter" stroke-linecap="butt" shape-rendering="crispEdges"/>
<path d="M1222 1617 L1373 1617" fill="none" stroke="#000" stroke-width="4" stroke-linejoin="miter" stroke-linecap="butt" shape-rendering="crispEdges" stroke-dasharray="38 22"/>
<text fill="#000" stroke="#000" stroke-width="0.3" stroke-linejoin="round"><tspan x="1386.52" y="1509" font-size="69.26" font-family='"Liberation Serif", "Times New Roman", serif' font-style="italic" textLength="47.74" lengthAdjust="spacingAndGlyphs">E</tspan><tspan x="1431.49" y="1518.5" font-size="39.73" font-family='"Liberation Serif", "Times New Roman", serif' font-style="italic" textLength="25.31" lengthAdjust="spacingAndGlyphs">a</tspan></text>
<text fill="#000" stroke="#000" stroke-width="0.3" stroke-linejoin="round"><tspan x="1412.43" y="1592.7" font-size="64.23" font-family='"Liberation Serif", "Times New Roman", serif' textLength="31.67" lengthAdjust="spacingAndGlyphs">1</tspan></text>
<rect x="1391" y="1619" width="76" height="3" fill="#000"/>
<text fill="#000" stroke="#000" stroke-width="0.3" stroke-linejoin="round"><tspan x="1394.29" y="1681.8" font-size="68.42" font-family='"Liberation Serif", "Times New Roman", serif' font-style="italic" textLength="42.31" lengthAdjust="spacingAndGlyphs">L</tspan><tspan x="1437.42" y="1691.94" font-size="42.09" font-family='"Liberation Serif", "Times New Roman", serif' font-style="italic" textLength="16.88" lengthAdjust="spacingAndGlyphs">f</tspan></text>
<text transform="translate(1499.32 1651.6) skewX(-10.13) scale(1 1.7348)" font-size="83.65" font-family='"Liberation Serif", "Times New Roman", serif' fill="#000">∫</text>
<text fill="#000" stroke="#000" stroke-width="0.3" stroke-linejoin="round"><tspan x="1551.73" y="1565.8" font-size="48.57" font-family='"Liberation Serif", "Times New Roman", serif' font-style="italic" textLength="29.92" lengthAdjust="spacingAndGlyphs">L</tspan><tspan x="1581.68" y="1572.79" font-size="35.77" font-family='"Liberation Serif", "Times New Roman", serif' font-style="italic" textLength="12.95" lengthAdjust="spacingAndGlyphs">f</tspan></text>
<text fill="#000" stroke="#000" stroke-width="0.3" stroke-linejoin="round"><tspan x="1519.93" y="1695.2" font-size="46.91" font-family='"Liberation Serif", "Times New Roman", serif' textLength="24.54" lengthAdjust="spacingAndGlyphs">0</tspan></text>
<text fill="#000" stroke="#000" stroke-width="0.3" stroke-linejoin="round"><tspan x="1620.12" y="1637.4" font-size="68.11" font-family='"Liberation Serif", "Times New Roman", serif' font-style="italic" textLength="48.05" lengthAdjust="spacingAndGlyphs">E</tspan><tspan x="1669.38" y="1610.5" font-size="46.12" font-family='"Liberation Serif", "Times New Roman", serif' font-style="italic" textLength="17.8" lengthAdjust="spacingAndGlyphs">b</tspan><tspan x="1689.4" y="1610.5" font-size="46.06" font-family='"Liberation Serif", "Times New Roman", serif' font-style="italic" textLength="14.48" lengthAdjust="spacingAndGlyphs">i</tspan><tspan x="1707.2" y="1610.5" font-size="43.51" font-family='"Liberation Serif", "Times New Roman", serif' font-style="italic" textLength="20.09" lengthAdjust="spacingAndGlyphs">o</tspan></text>
<text fill="#000" stroke="#000" stroke-width="0.3" stroke-linejoin="round"><tspan x="1742.71" y="1637.67" font-size="72.02" font-family='"Liberation Serif", "Times New Roman", serif' textLength="21.91" lengthAdjust="spacingAndGlyphs">(</tspan><tspan x="1769.2" y="1637.4" font-size="64.71" font-family='"Liberation Serif", "Times New Roman", serif' font-style="italic" textLength="27.84" lengthAdjust="spacingAndGlyphs">z</tspan><tspan x="1799.38" y="1637.67" font-size="72.02" font-family='"Liberation Serif", "Times New Roman", serif' textLength="21.91" lengthAdjust="spacingAndGlyphs">)</tspan></text>
<text fill="#000" stroke="#000" stroke-width="0.3" stroke-linejoin="round"><tspan x="1834.73" y="1637.4" font-size="66.15" font-family='"Liberation Serif", "Times New Roman", serif' font-style="italic" textLength="34.2" lengthAdjust="spacingAndGlyphs">d</tspan><tspan x="1873.76" y="1637.4" font-size="64.71" font-family='"Liberation Serif", "Times New Roman", serif' font-style="italic" textLength="26.23" lengthAdjust="spacingAndGlyphs">z</tspan></text>
<text fill="#000" stroke="#000" stroke-width="0.5" stroke-linejoin="round"><tspan x="1931.14" y="1448.36" font-size="65.71" font-family='"Liberation Sans", Arial, Helvetica, sans-serif' textLength="33.63" lengthAdjust="spacingAndGlyphs">c</tspan></text>
<text fill="#262626"><tspan x="251.37" y="1877.3" font-size="66.43" font-family='"Liberation Sans", Arial, Helvetica, sans-serif' textLength="36.45" lengthAdjust="spacingAndGlyphs">0</tspan></text>
<text fill="#262626"><tspan x="539.21" y="1877.3" font-size="66.43" font-family='"Liberation Sans", Arial, Helvetica, sans-serif' textLength="36.75" lengthAdjust="spacingAndGlyphs">5</tspan></text>
<text fill="#262626"><tspan x="812.15" y="1877.3" font-size="66.43" font-family='"Liberation Sans", Arial, Helvetica, sans-serif' textLength="35.09" lengthAdjust="spacingAndGlyphs">1</tspan><tspan x="845.94" y="1877.3" font-size="66.43" font-family='"Liberation Sans", Arial, Helvetica, sans-serif' textLength="36.45" lengthAdjust="spacingAndGlyphs">0</tspan></text>
<text fill="#262626"><tspan x="1100.4" y="1877.3" font-size="66.43" font-family='"Liberation Sans", Arial, Helvetica, sans-serif' textLength="35.09" lengthAdjust="spacingAndGlyphs">1</tspan><tspan x="1133.78" y="1877.3" font-size="66.43" font-family='"Liberation Sans", Arial, Helvetica, sans-serif' textLength="36.75" lengthAdjust="spacingAndGlyphs">5</tspan></text>
<text fill="#262626"><tspan x="1384.7" y="1877.3" font-size="66.43" font-family='"Liberation Sans", Arial, Helvetica, sans-serif' textLength="38.17" lengthAdjust="spacingAndGlyphs">2</tspan><tspan x="1422.44" y="1877.3" font-size="66.43" font-family='"Liberation Sans", Arial, Helvetica, sans-serif' textLength="36.45" lengthAdjust="spacingAndGlyphs">0</tspan></text>
<text fill="#262626"><tspan x="1672.95" y="1877.3" font-size="66.43" font-family='"Liberation Sans", Arial, Helvetica, sans-serif' textLength="38.17" lengthAdjust="spacingAndGlyphs">2</tspan><tspan x="1710.28" y="1877.3" font-size="66.43" font-family='"Liberation Sans", Arial, Helvetica, sans-serif' textLength="36.75" lengthAdjust="spacingAndGlyphs">5</tspan></text>
<text fill="#262626"><tspan x="1962.62" y="1877.3" font-size="66.43" font-family='"Liberation Sans", Arial, Helvetica, sans-serif' textLength="37.21" lengthAdjust="spacingAndGlyphs">3</tspan><tspan x="1998.94" y="1877.3" font-size="66.43" font-family='"Liberation Sans", Arial, Helvetica, sans-serif' textLength="36.45" lengthAdjust="spacingAndGlyphs">0</tspan></text>
<text fill="#262626"><tspan x="211" y="1476.72" font-size="66.43" font-family='"Liberation Sans", Arial, Helvetica, sans-serif' textLength="36.45" lengthAdjust="spacingAndGlyphs">0</tspan></text>
<text fill="#262626"><tspan x="117.2" y="1622.93" font-size="66.43" font-family='"Liberation Sans", Arial, Helvetica, sans-serif' textLength="21.72" lengthAdjust="spacingAndGlyphs">-</tspan><tspan x="141.07" y="1622.93" font-size="66.43" font-family='"Liberation Sans", Arial, Helvetica, sans-serif' textLength="35.09" lengthAdjust="spacingAndGlyphs">1</tspan><tspan x="174.86" y="1622.93" font-size="66.43" font-family='"Liberation Sans", Arial, Helvetica, sans-serif' textLength="36.45" lengthAdjust="spacingAndGlyphs">0</tspan><tspan x="211" y="1622.93" font-size="66.43" font-family='"Liberation Sans", Arial, Helvetica, sans-serif' textLength="36.45" lengthAdjust="spacingAndGlyphs">0</tspan></text>
<text fill="#262626"><tspan x="117.2" y="1769.13" font-size="66.43" font-family='"Liberation Sans", Arial, Helvetica, sans-serif' textLength="21.72" lengthAdjust="spacingAndGlyphs">-</tspan><tspan x="137.12" y="1769.13" font-size="66.43" font-family='"Liberation Sans", Arial, Helvetica, sans-serif' textLength="38.17" lengthAdjust="spacingAndGlyphs">2</tspan><tspan x="174.86" y="1769.13" font-size="66.43" font-family='"Liberation Sans", Arial, Helvetica, sans-serif' textLength="36.45" lengthAdjust="spacingAndGlyphs">0</tspan><tspan x="211" y="1769.13" font-size="66.43" font-family='"Liberation Sans", Arial, Helvetica, sans-serif' textLength="36.45" lengthAdjust="spacingAndGlyphs">0</tspan></text>
<text fill="#262626" stroke="#262626" stroke-width="0.4" stroke-linejoin="round"><tspan x="1053.02" y="1958.5" font-size="81.71" font-family='"Liberation Serif", "Times New Roman", serif' font-style="italic" textLength="25.17" lengthAdjust="spacingAndGlyphs">t</tspan></text>
<text fill="#262626" stroke="#262626" stroke-width="0.4" stroke-linejoin="round"><tspan x="1120.89" y="1959.26" font-size="80.51" font-family='"Liberation Serif", "Times New Roman", serif' textLength="23.6" lengthAdjust="spacingAndGlyphs">(</tspan><tspan x="1144.21" y="1958.5" font-size="73.65" font-family='"Liberation Serif", "Times New Roman", serif' textLength="39.96" lengthAdjust="spacingAndGlyphs">d</tspan><tspan x="1186.53" y="1959.26" font-size="80.51" font-family='"Liberation Serif", "Times New Roman", serif' textLength="22.43" lengthAdjust="spacingAndGlyphs">)</tspan></text>
<text transform="rotate(-90)" fill="#262626" stroke="#262626" stroke-width="0.4" stroke-linejoin="round"><tspan x="-1702.68" y="75" font-size="76.36" font-family='"Liberation Serif", "Times New Roman", serif' font-style="italic" textLength="53.18" lengthAdjust="spacingAndGlyphs">E</tspan></text>
<text transform="rotate(-90)" fill="#262626" stroke="#262626" stroke-width="0.4" stroke-linejoin="round"><tspan x="-1610.21" y="76.12" font-size="79.74" font-family='"Liberation Serif", "Times New Roman", serif' textLength="23.6" lengthAdjust="spacingAndGlyphs">(</tspan><tspan x="-1585.82" y="75" font-size="68.13" font-family='"Liberation Serif", "Times New Roman", serif' textLength="60.03" lengthAdjust="spacingAndGlyphs">m</tspan><tspan x="-1525.92" y="75" font-size="76.36" font-family='"Liberation Serif", "Times New Roman", serif' textLength="52.74" lengthAdjust="spacingAndGlyphs">V</tspan><tspan x="-1470.25" y="76.15" font-size="79.63" font-family='"Liberation Serif", "Times New Roman", serif' textLength="23.21" lengthAdjust="spacingAndGlyphs">)</tspan></text>
</g>
</svg></body></html>
